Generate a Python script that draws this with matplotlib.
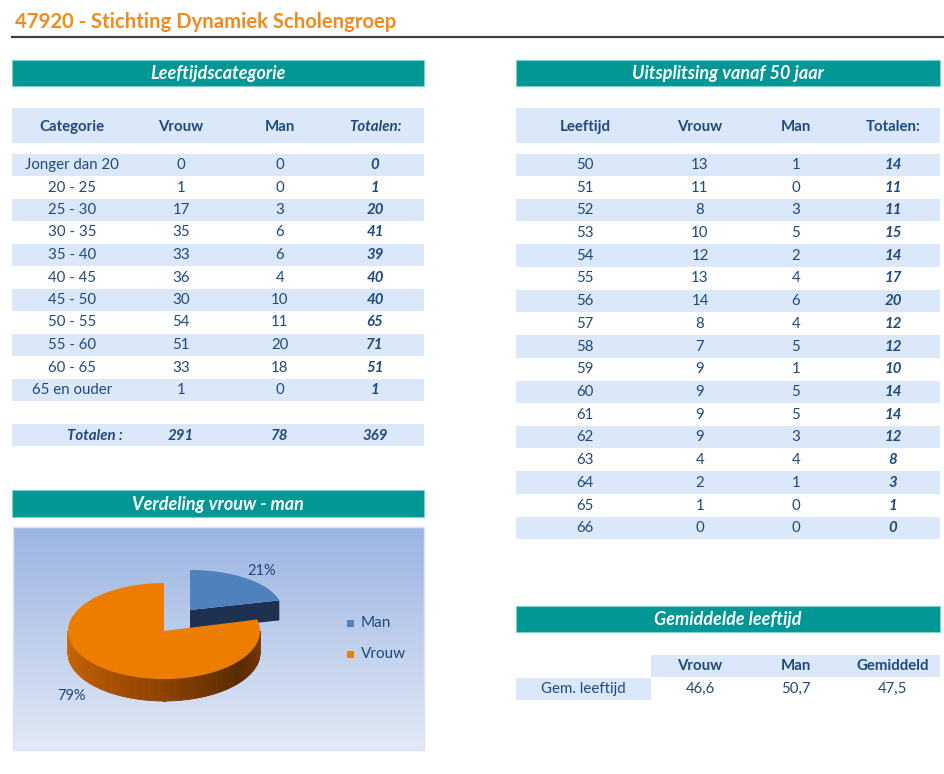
import numpy as np
import matplotlib
matplotlib.use("Agg")
import matplotlib.pyplot as plt
from matplotlib.patches import Rectangle, Polygon

plt.rcParams['font.family'] = ['Lato', 'DejaVu Sans']

# data
titel = "47920 - Stichting Dynamiek Scholengroep"

categorie = ["Jonger dan 20", "20 - 25", "25 - 30", "30 - 35", "35 - 40", "40 - 45",
             "45 - 50", "50 - 55", "55 - 60", "60 - 65", "65 en ouder"]
cat_vrouw = [0, 1, 17, 35, 33, 36, 30, 54, 51, 33, 1]
cat_man = [0, 0, 3, 6, 6, 4, 10, 11, 20, 18, 0]

leeftijd = [50, 51, 52, 53, 54, 55, 56, 57, 58, 59, 60, 61, 62, 63, 64, 65, 66]
lft_vrouw = [13, 11, 8, 10, 12, 13, 14, 8, 7, 9, 9, 9, 9, 4, 2, 1, 0]
lft_man = [1, 0, 3, 5, 2, 4, 6, 4, 5, 1, 5, 5, 3, 4, 1, 0, 0]

gem_labels = ["Vrouw", "Man", "Gemiddeld"]
gem_waarden = [46.6, 50.7, 47.5]

pie_labels = ["Man", "Vrouw"]
pie_values = [sum(cat_man), sum(cat_vrouw)]

# style
TEAL = "#009794"
BAND = "#dbe8fa"
TXT = "#1f497d"
ORANJE = "#ed7d00"
BLAUW = "#4f81bd"
FS = 10.8

fig = plt.figure(figsize=(9.45, 7.74), dpi=100)
ax = fig.add_axes([0, 0, 1, 1])
ax.set_xlim(0, 945)
ax.set_ylim(774, 0)
ax.axis("off")


def band(x0, x1, y0, y1, color=BAND):
    ax.add_patch(Rectangle((x0, y0), x1 - x0, y1 - y0, facecolor=color, edgecolor="none"))


def kop(x0, x1, y0, y1, tekst):
    ax.add_patch(Rectangle((x0, y0), x1 - x0, y1 - y0, facecolor=TEAL,
                           edgecolor="#7fcfcc", lw=0.8))
    ax.text((x0 + x1) / 2, (y0 + y1) / 2 + 1, tekst, color="white", fontsize=13,
            fontweight="bold", style="italic", ha="center", va="center")


def cel(x, y, tekst, bold=False, italic=False, size=FS):
    ax.text(x, y, tekst, color=TXT, fontsize=size, ha="center", va="center",
            fontweight="bold" if bold else "normal",
            style="italic" if italic else "normal")


# titel
ax.text(15, 22, titel, color="#f28a1c", fontsize=14.6, fontweight="bold", va="center")
ax.plot([12, 945], [37, 37], color="#404040", lw=1.6)

# ---- Leeftijdscategorie ----
kop(12, 424, 60, 86, "Leeftijdscategorie")
band(12, 424, 108, 143)
lx = [72, 181, 280, 375]
for x, h in zip(lx, ["Categorie", "Vrouw", "Man"]):
    cel(x, 127, h, bold=True)
cel(lx[3], 127, "Totalen:", bold=True, italic=True)

for i, c in enumerate(categorie):
    y = 165 + 22.5 * i
    if i % 2 == 0:
        band(12, 424, y - 11.5, y + 11)
    cel(lx[0], y, c)
    cel(lx[1], y, str(cat_vrouw[i]))
    cel(lx[2], y, str(cat_man[i]))
    cel(lx[3], y, str(cat_vrouw[i] + cat_man[i]), bold=True, italic=True)

band(12, 424, 424, 446)
cel(95, 436, "Totalen :", bold=True, italic=True)
cel(lx[1], 436, str(sum(cat_vrouw)), bold=True, italic=True)
cel(lx[2], 436, str(sum(cat_man)), bold=True, italic=True)
cel(lx[3], 436, str(sum(cat_vrouw) + sum(cat_man)), bold=True, italic=True)

# ---- Uitsplitsing vanaf 50 jaar ----
kop(516, 940, 60, 86, "Uitsplitsing vanaf 50 jaar")
band(516, 940, 108, 143)
rx_ = [585, 700, 796, 893]
for x, h in zip(rx_, ["Leeftijd", "Vrouw", "Man", "Totalen:"]):
    cel(x, 127, h, bold=True)
for i, l in enumerate(leeftijd):
    y = 165 + 22.7 * i
    if i % 2 == 0:
        band(516, 940, y - 11.5, y + 11)
    cel(rx_[0], y, str(l))
    cel(rx_[1], y, str(lft_vrouw[i]))
    cel(rx_[2], y, str(lft_man[i]))
    cel(rx_[3], y, str(lft_vrouw[i] + lft_man[i]), bold=True, italic=True)

# ---- Gemiddelde leeftijd ----
kop(516, 940, 606, 632, "Gemiddelde leeftijd")
band(651, 940, 655, 677)
band(516, 651, 678, 700)
for x, h in zip(rx_[1:], gem_labels):
    cel(x, 666, h, bold=True)
cel(583, 689, "Gem. leeftijd")
for x, v in zip(rx_[1:], gem_waarden):
    cel(x, 689, f"{v:.1f}".replace(".", ","))

# ---- Verdeling vrouw - man ----
kop(12, 424, 490, 517, "Verdeling vrouw - man")
grad = np.linspace(0, 1, 200)[:, None]
top_c = np.array([155, 180, 226]) / 255
bot_c = np.array([226, 233, 246]) / 255
img = top_c[None, None, :] * (1 - grad[..., None]) + bot_c[None, None, :] * grad[..., None]
img = np.repeat(img, 2, axis=1)
ax.imshow(img, extent=(13, 424, 750, 527), aspect="auto", zorder=0.5)
ax.add_patch(Rectangle((13, 527), 411, 223, facecolor="none", edgecolor="#dbe5f1", lw=1, zorder=1))

totaal = sum(pie_values)
hoek_man = 360.0 * pie_values[0] / totaal


def rand(t, cx, cy, rx, ry):
    t = np.radians(t)
    return np.column_stack([cx + rx * np.sin(t), cy - ry * np.cos(t)])


# man (uitgeschoven, iets kleiner door perspectief)
bcx, bcy, brx, bry, bd = 190, 610, 92, 40, 20
p = rand(np.array([hoek_man]), bcx, bcy, brx, bry)[0]
ax.add_patch(Polygon([(bcx, bcy), p, (p[0], p[1] + bd), (bcx, bcy + bd)],
                     closed=True, facecolor="#1f3150", edgecolor="none", zorder=2))
arc = rand(np.linspace(0, hoek_man, 60), bcx, bcy, brx, bry)
ax.add_patch(Polygon(np.vstack([[bcx, bcy], arc]), closed=True, facecolor=BLAUW,
                     edgecolor="none", zorder=2))

# vrouw
ocx, ocy, orx, ory, od = 164, 631, 96, 48, 22
anker_t = [90, 130, 180, 230, 270]
anker_c = np.array([[125, 58, 0], [88, 42, 0], [140, 66, 0], [180, 88, 0], [205, 105, 0]]) / 255
ts = np.linspace(max(90, hoek_man), 270, 90)
for t0, t1 in zip(ts[:-1], ts[1:]):
    q = rand(np.array([t0, t1]), ocx, ocy, orx, ory)
    tm = (t0 + t1) / 2
    kleur = [np.interp(tm, anker_t, anker_c[:, k]) for k in range(3)]
    ax.add_patch(Polygon([q[0], q[1], (q[1][0], q[1][1] + od), (q[0][0], q[0][1] + od)],
                         closed=True, facecolor=kleur, edgecolor=kleur, lw=0.6, zorder=3))
arc = rand(np.linspace(hoek_man, 360, 200), ocx, ocy, orx, ory)
ax.add_patch(Polygon(np.vstack([[ocx, ocy], arc]), closed=True, facecolor=ORANJE,
                     edgecolor="none", zorder=4))

pct = [round(100 * v / totaal) for v in pie_values]
ax.text(262, 571, f"{pct[0]}%", color=TXT, fontsize=10.5, ha="center", va="center", zorder=5)
ax.text(72, 696, f"{pct[1]}%", color=TXT, fontsize=10.5, ha="center", va="center", zorder=5)

for y, lab, col in zip([623, 654], pie_labels, [BLAUW, ORANJE]):
    ax.add_patch(Rectangle((347, y - 3.5), 7, 7, facecolor=col, edgecolor="none", zorder=5))
    ax.text(361, y, lab, color=TXT, fontsize=11, va="center", zorder=5)

plt.savefig("out.png", dpi=100)
plt.close()
